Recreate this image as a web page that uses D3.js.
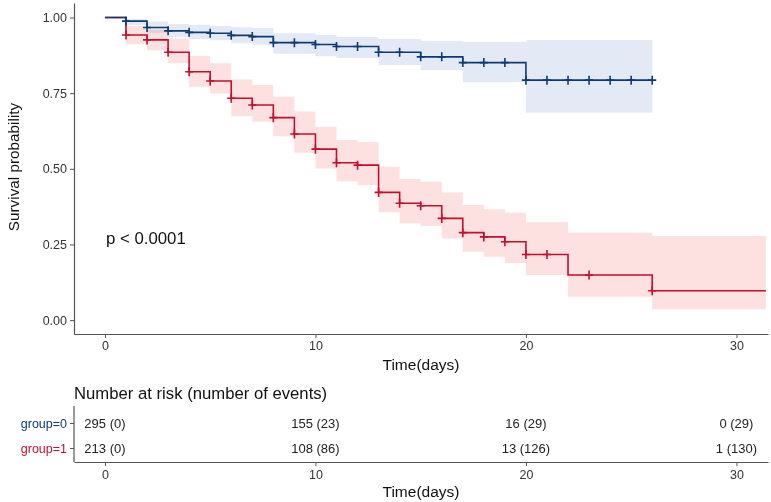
<!DOCTYPE html>
<html>
<head>
<meta charset="utf-8">
<script src="https://cdn.jsdelivr.net/npm/d3@7"></script>
<style>
  body { margin: 0; background: #fff; }
  text { font-family: "Liberation Sans", Arial, sans-serif; }
</style>
</head>
<body>
<div id="chart"></div>
<script>
// group=0 step curve (time, survival) and CI per step
const g0Times = [0, 1, 2, 3, 4, 5, 6, 7, 8, 10, 11, 13, 15, 17, 20];
const g0Surv  = [1, 0.988, 0.967, 0.956, 0.951, 0.948, 0.941, 0.937, 0.917, 0.911, 0.904, 0.885, 0.870, 0.851, 0.793];
const g0Upper = [1, 0.996, 0.987, 0.979, 0.976, 0.972, 0.968, 0.965, 0.948, 0.942, 0.936, 0.929, 0.922, 0.920, 0.926];
const g0Lower = [1, 0.975, 0.950, 0.935, 0.928, 0.925, 0.915, 0.910, 0.880, 0.872, 0.866, 0.843, 0.826, 0.786, 0.685];
const g0End = 26;
const g0Censor = [1, 2, 3, 4, 5, 6, 7, 8, 9, 10, 11, 12, 13, 14, 15, 16, 17, 18, 19, 20, 21, 22, 23, 24, 25, 26];

// group=1
const g1Times = [0, 1, 2, 3, 4, 5, 6, 7, 8, 9, 10, 11, 12, 13, 14, 15, 16, 17, 18, 19, 20, 22, 26];
const g1Surv  = [1, 0.942, 0.926, 0.885, 0.821, 0.790, 0.733, 0.711, 0.669, 0.615, 0.565, 0.520, 0.512, 0.422, 0.386, 0.378, 0.336, 0.289, 0.275, 0.259, 0.217, 0.149, 0.097];
const g1Upper = [1, 0.972, 0.960, 0.931, 0.873, 0.849, 0.795, 0.777, 0.738, 0.689, 0.639, 0.595, 0.589, 0.507, 0.466, 0.457, 0.422, 0.380, 0.366, 0.355, 0.323, 0.289, 0.278];
const g1Lower = [1, 0.912, 0.892, 0.849, 0.771, 0.749, 0.674, 0.656, 0.608, 0.553, 0.501, 0.459, 0.446, 0.356, 0.320, 0.311, 0.270, 0.226, 0.209, 0.189, 0.149, 0.077, 0.036];
const g1End = 31.4;
const g1Censor = [1, 2, 3, 4, 5, 6, 7, 8, 9, 10, 11, 12, 13, 14, 15, 16, 17, 18, 19, 20, 21, 23, 26];

const xTicks = [0, 10, 20, 30];
const yTicks = [0, 0.25, 0.5, 0.75, 1];
const groupLabels = ["group=0", "group=1"];
const riskTimes = [0, 10, 20, 30];
const riskG0 = ["295 (0)", "155 (23)", "16 (29)", "0 (29)"];
const riskG1 = ["213 (0)", "108 (86)", "13 (126)", "1 (130)"];

const colors = ["#0d3b70", "#c20f2e"];
const bandColors = ["#e3eaf5", "#fde0e0"];

const W = 771, H = 502;
const svg = d3.select("#chart").append("svg")
    .attr("width", W)
    .attr("height", H);

const x = d3.scaleLinear().domain([-1.47, 31.5]).range([74, 768]);
const y = d3.scaleLinear().domain([-0.046, 1.048]).range([334, 3]);

const groups = [
    {times: g0Times, surv: g0Surv, up: g0Upper, lo: g0Lower, end: g0End, cens: g0Censor},
    {times: g1Times, surv: g1Surv, up: g1Upper, lo: g1Lower, end: g1End, cens: g1Censor}
];

function pts(g) {
    const p = g.times.map((t, i) => ({t: t, s: g.surv[i], u: g.up[i], l: g.lo[i]}));
    const last = p[p.length - 1];
    p.push({t: g.end, s: last.s, u: last.u, l: last.l});
    return p;
}

const area = d3.area()
    .curve(d3.curveStepAfter)
    .x(d => x(d.t))
    .y0(d => y(d.l))
    .y1(d => y(d.u));

const line = d3.line()
    .curve(d3.curveStepAfter)
    .x(d => x(d.t))
    .y(d => y(d.s));

// confidence bands
[1, 0].forEach(i => {
    svg.append("path")
        .attr("d", area(pts(groups[i])))
        .attr("fill", bandColors[i])
        .style("mix-blend-mode", "multiply");
});

// curves + censor marks
[1, 0].forEach(i => {
    const g = groups[i];
    svg.append("path")
        .attr("d", line(pts(g)))
        .attr("fill", "none")
        .attr("stroke", colors[i])
        .attr("stroke-width", 1.6);

    const survAt = t => {
        let s = 1;
        g.times.forEach((tt, k) => { if (tt <= t) s = g.surv[k]; });
        return s;
    };
    svg.append("g").selectAll("path")
        .data(g.cens)
        .enter()
        .append("path")
        .attr("d", d => {
            const cx = x(d), cy = y(survAt(d));
            return `M${cx - 4},${cy}H${cx + 4}M${cx},${cy - 4.5}V${cy + 4.5}`;
        })
        .attr("stroke", colors[i])
        .attr("stroke-width", 1.6);
});

// axes
const yAxis = svg.append("g")
    .attr("transform", "translate(74,0)")
    .call(d3.axisLeft(y).tickValues(yTicks).tickFormat(d3.format(".2f")).tickSize(4).tickSizeOuter(0).tickPadding(3));
const xAxis = svg.append("g")
    .attr("transform", "translate(0,334)")
    .call(d3.axisBottom(x).tickValues(xTicks).tickSize(4).tickSizeOuter(0).tickPadding(3));

[xAxis, yAxis].forEach(a => {
    a.select(".domain").attr("stroke", "#555").attr("stroke-width", 1.2);
    a.selectAll(".tick line").attr("stroke", "#555").attr("stroke-width", 1);
    a.selectAll(".tick text").attr("fill", "#333").style("font-size", "12.5px");
});

svg.append("text")
    .attr("x", 421).attr("y", 370)
    .attr("text-anchor", "middle")
    .style("font-size", "15.5px")
    .attr("fill", "#111")
    .text("Time(days)");

svg.append("text")
    .attr("transform", "translate(19,167) rotate(-90)")
    .attr("text-anchor", "middle")
    .style("font-size", "15.3px")
    .attr("fill", "#111")
    .text("Survival probability");

svg.append("text")
    .attr("x", 106).attr("y", 244)
    .style("font-size", "16.8px")
    .attr("fill", "#111")
    .text("p < 0.0001");

// risk table
svg.append("text")
    .attr("x", 74).attr("y", 399)
    .style("font-size", "16.7px")
    .attr("fill", "#111")
    .text("Number at risk (number of events)");

const ty = d3.scalePoint().domain(groupLabels).range([423, 448]);

const tAxisY = svg.append("g")
    .attr("transform", "translate(74,0)")
    .call(d3.axisLeft(ty).tickSize(4).tickSizeOuter(0).tickPadding(3));
tAxisY.select(".domain").attr("d", "M0,406V462");
const tAxisX = svg.append("g")
    .attr("transform", "translate(0,462)")
    .call(d3.axisBottom(x).tickValues(xTicks).tickSize(4).tickSizeOuter(0).tickPadding(4));

[tAxisX, tAxisY].forEach(a => {
    a.select(".domain").attr("stroke", "#555").attr("stroke-width", 1.2);
    a.selectAll(".tick line").attr("stroke", "#555").attr("stroke-width", 1);
    a.selectAll(".tick text").attr("fill", "#333").style("font-size", "12.5px");
});
tAxisY.selectAll(".tick text")
    .attr("fill", (d, i) => colors[i])
    .style("font-size", "12.5px");

[riskG0, riskG1].forEach((row, i) => {
    svg.append("g").selectAll("text")
        .data(row)
        .enter()
        .append("text")
        .attr("x", (d, k) => x(riskTimes[k]))
        .attr("y", ty(groupLabels[i]))
        .attr("dy", "0.35em")
        .attr("text-anchor", "middle")
        .style("font-size", "13px")
        .attr("fill", "#222")
        .text(d => d);
});

svg.append("text")
    .attr("x", 421).attr("y", 497)
    .attr("text-anchor", "middle")
    .style("font-size", "15.5px")
    .attr("fill", "#111")
    .text("Time(days)");
</script>
</body>
</html>
